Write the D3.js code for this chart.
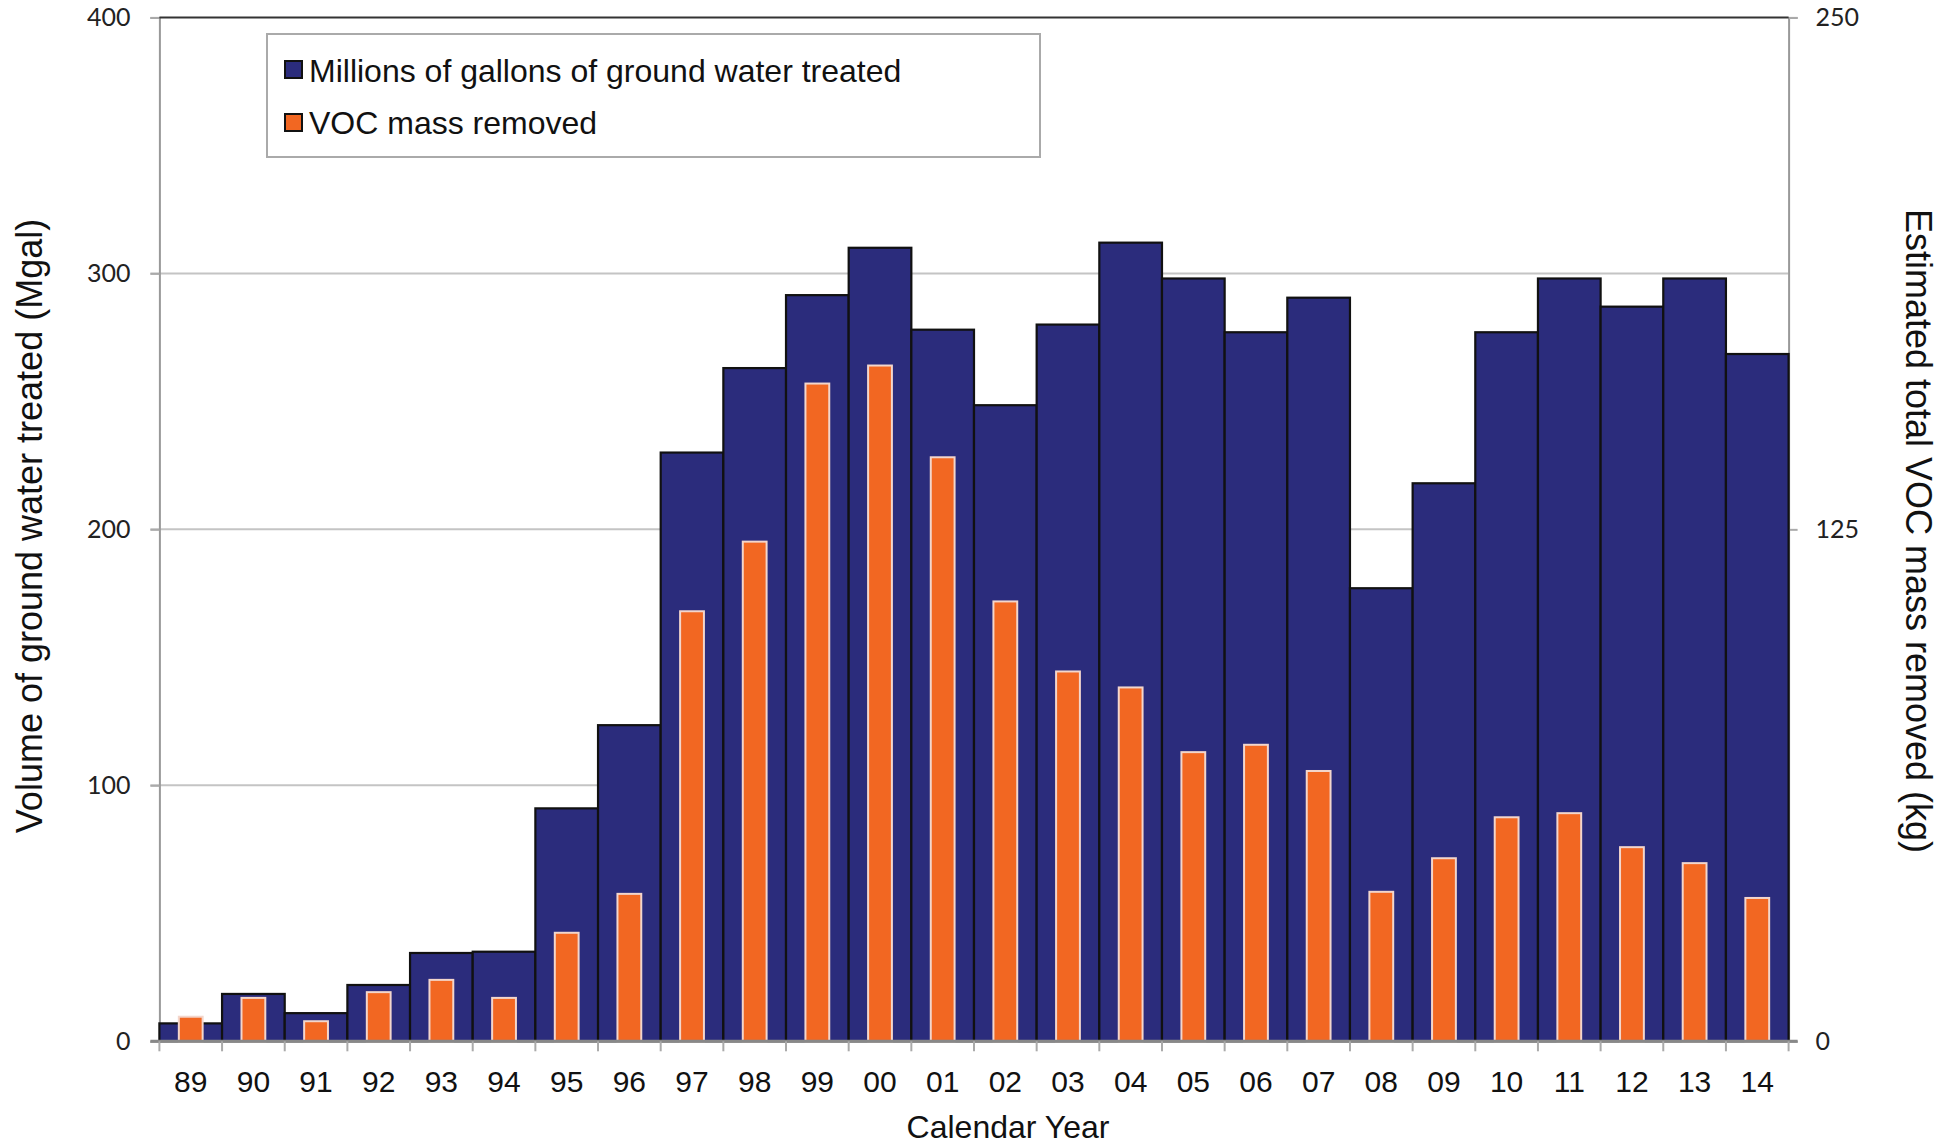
<!DOCTYPE html>
<html>
<head>
<meta charset="utf-8">
<script src="https://cdn.jsdelivr.net/npm/d3@7"></script>
<style>
  html, body { margin: 0; padding: 0; background: #fff; }
  svg { display: block; }
</style>
</head>
<body>
<svg id="chart"></svg>
<script>
// data
const years = ["89","90","91","92","93","94","95","96","97","98","99","00","01",
               "02","03","04","05","06","07","08","09","10","11","12","13","14"];
const gallons = [7, 18.5, 11, 22, 34.5, 35, 91, 123.5, 230, 263, 291.5, 310, 278,
                 248.5, 280, 312, 298, 277, 290.5, 177, 218, 277, 298, 287, 298, 268.5];
const vocKg = [6, 10.6, 4.9, 12, 15, 10.6, 26.5, 36, 105, 122, 160.6, 165, 142.6,
               107.4, 90.3, 86.4, 70.6, 72.4, 66, 36.5, 44.7, 54.7, 55.7, 47.4, 43.5, 35];
const leftTicks = [0, 100, 200, 300, 400];
const rightTicks = [0, 125, 250];
const legendLabels = ["Millions of gallons of ground water treated", "VOC mass removed"];

const W = 1953, H = 1144;
const pL = 159.4, pR = 1788.6, pT = 17.4, pB = 1041.3;
const blue = "#2b2c7c", orange = "#f26722";
const sans = "'Liberation Sans', Arial, sans-serif";
const numFont = "Lato, 'Open Sans', sans-serif";

const svg = d3.select("#chart").attr("width", W).attr("height", H);

const x = d3.scaleBand().domain(years).range([pL, pR]).padding(0);
const yL = d3.scaleLinear().domain([0, 400]).range([pB, pT]);
const yR = d3.scaleLinear().domain([0, 250]).range([pB, pT]);

// gridlines
svg.append("g")
  .selectAll("line")
  .data(leftTicks.filter(d => d > 0 && d < 400))
  .enter().append("line")
  .attr("x1", pL - 9).attr("x2", pR)
  .attr("y1", d => yL(d)).attr("y2", d => yL(d))
  .attr("stroke", "#c4c4c4").attr("stroke-width", 2);

// left axis
const axL = svg.append("g")
  .attr("transform", `translate(${pL},0)`)
  .call(d3.axisLeft(yL).tickValues(leftTicks).tickSize(9).tickPadding(20));
axL.select(".domain").attr("stroke", "#999").attr("stroke-width", 2);
axL.selectAll(".tick line").attr("stroke", "#aaa").attr("stroke-width", 2);
axL.selectAll("text").attr("font-family", numFont).attr("font-size", 25).attr("fill", "#222");

// right axis
const axR = svg.append("g")
  .attr("transform", `translate(${pR},0)`)
  .call(d3.axisRight(yR).tickValues(rightTicks).tickSize(9).tickPadding(18));
axR.select(".domain").attr("stroke", "#999").attr("stroke-width", 2);
axR.selectAll(".tick line").attr("stroke", "#aaa").attr("stroke-width", 2);
axR.selectAll("text").attr("font-family", numFont).attr("font-size", 25).attr("fill", "#222");

// top border
svg.append("line")
  .attr("x1", pL).attr("x2", pR).attr("y1", pT).attr("y2", pT)
  .attr("stroke", "#333").attr("stroke-width", 2);

// blue bars
svg.append("g")
  .selectAll("rect")
  .data(years)
  .enter().append("rect")
  .attr("x", d => x(d))
  .attr("width", x.bandwidth())
  .attr("y", (d, i) => yL(gallons[i]))
  .attr("height", (d, i) => pB - yL(gallons[i]))
  .attr("fill", blue)
  .attr("stroke", "#111")
  .attr("stroke-width", 2.2);

// orange bars
const ow = x.bandwidth() * 0.38;
svg.append("g")
  .selectAll("rect")
  .data(years)
  .enter().append("rect")
  .attr("x", d => x(d) + (x.bandwidth() - ow) / 2)
  .attr("width", ow)
  .attr("y", (d, i) => yR(vocKg[i]))
  .attr("height", (d, i) => pB - yR(vocKg[i]))
  .attr("fill", orange)
  .attr("stroke", "#f3d6cc")
  .attr("stroke-width", 2);

// bottom axis
const axB = svg.append("g")
  .attr("transform", `translate(0,${pB})`)
  .call(d3.axisBottom(x).tickSize(0).tickPadding(29));
axB.select(".domain").remove();
axB.selectAll("text").attr("font-family", sans).attr("font-size", 30).attr("fill", "#111");
svg.append("line")
  .attr("x1", pL - 9).attr("x2", pR + 9).attr("y1", pB).attr("y2", pB)
  .attr("stroke", "#888").attr("stroke-width", 3);
svg.append("g")
  .selectAll("line")
  .data(years.concat(["end"]))
  .enter().append("line")
  .attr("x1", (d, i) => i < years.length ? x(d) : pR)
  .attr("x2", (d, i) => i < years.length ? x(d) : pR)
  .attr("y1", pB).attr("y2", pB + 10)
  .attr("stroke", "#aaa").attr("stroke-width", 2);

// axis titles
svg.append("text")
  .attr("transform", "translate(42,526) rotate(-90)")
  .attr("text-anchor", "middle")
  .attr("font-family", sans).attr("font-size", 36).attr("fill", "#111")
  .text("Volume of ground water treated (Mgal)");
svg.append("text")
  .attr("transform", "translate(1906,531) rotate(90)")
  .attr("text-anchor", "middle")
  .attr("font-family", sans).attr("font-size", 36).attr("fill", "#111")
  .text("Estimated total VOC mass removed (kg)");
svg.append("text")
  .attr("x", 1008).attr("y", 1138)
  .attr("text-anchor", "middle")
  .attr("font-family", sans).attr("font-size", 32).attr("fill", "#111")
  .text("Calendar Year");

// legend
const lg = svg.append("g");
lg.append("rect")
  .attr("x", 267).attr("y", 34).attr("width", 773).attr("height", 123)
  .attr("fill", "#fff").attr("stroke", "#aaa").attr("stroke-width", 2);
const legendColors = [blue, orange];
legendLabels.forEach((t, i) => {
  lg.append("rect")
    .attr("x", 285).attr("y", 61 + i * 53).attr("width", 17).attr("height", 17)
    .attr("fill", legendColors[i]).attr("stroke", "#111").attr("stroke-width", 2);
  lg.append("text")
    .attr("x", 309).attr("y", 82 + i * 52)
    .attr("font-family", sans).attr("font-size", 32).attr("fill", "#111")
    .text(t);
});
</script>
</body>
</html>
